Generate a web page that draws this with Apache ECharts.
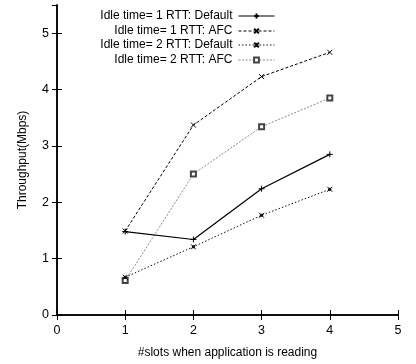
<!DOCTYPE html>
<html>
<head>
<meta charset="utf-8">
<script src="https://cdn.jsdelivr.net/npm/echarts@6/dist/echarts.min.js"></script>
<style>
  html, body { margin: 0; padding: 0; background: #fff; }
  #chart { width: 416px; height: 364px; }
</style>
</head>
<body>
<div id="chart"></div>
<script>
const slots = [1, 2, 3, 4];
const idle1Default = [1.48, 1.34, 2.24, 2.85];
const idle1Afc     = [1.49, 3.37, 4.23, 4.66];
const idle2Default = [0.67, 1.21, 1.77, 2.23];
const idle2Afc     = [0.61, 2.50, 3.34, 3.85];
const xTicks = [0, 1, 2, 3, 4, 5];
const yTicks = [0, 1, 2, 3, 4, 5];

const names = [
  "Idle time= 1 RTT: Default",
  "Idle time= 1 RTT: AFC",
  "Idle time= 2 RTT: Default",
  "Idle time= 2 RTT: AFC"
];

const font = "Liberation Sans, Arial, sans-serif";
const plusPath  = "path://M0,5L10,5M5,0L5,10";
const crossPath = "path://M0,0L10,10M10,0L0,10";
const starPath  = "path://M0,0L10,10M10,0L0,10M3,3L7,3L7,7L3,7Z";

const pair = (ys) => slots.map((x, i) => [x, ys[i]]);

function series(name, ys, opts) {
  return {
    name,
    type: "line",
    data: pair(ys),
    symbol: opts.symbol,
    symbolSize: opts.size || 6,
    color: opts.color,
    lineStyle: { color: opts.color, width: opts.width || 1, type: opts.dash },
    itemStyle: { color: opts.mark || opts.color, borderColor: opts.mark || opts.color, borderWidth: opts.bw || 1 },
    emphasis: { disabled: true },
    z: opts.z || 2
  };
}

function legendAt(name, top) {
  return {
    data: [name],
    right: 141,
    top,
    padding: 0,
    align: "right",
    itemWidth: 36,
    itemHeight: 6,
    itemGap: 0,
    selectedMode: false,
    lineStyle: { width: 1 },
    textStyle: { fontFamily: font, fontSize: 12, color: "#000", padding: [0, 1, 0, 0] }
  };
}

const xBase = {
  type: "value", min: 0, max: 5, interval: 1,
  axisLine: { show: true, lineStyle: { color: "#000", width: 1.5 } },
  axisTick: { show: true, inside: true, length: 5, lineStyle: { color: "#000" } },
  splitLine: { show: false }
};
const yBase = {
  type: "value", min: 0, max: 5.5, interval: 1,
  axisLine: { show: true, lineStyle: { color: "#000", width: 1.5 } },
  axisTick: { show: true, inside: true, length: 5, lineStyle: { color: "#000" } },
  splitLine: { show: false }
};

const chart = echarts.init(document.getElementById("chart"), null, { renderer: "canvas" });
chart.setOption({
  animation: false,
  backgroundColor: "#fff",
  grid: { left: 57, right: 18, top: 5, bottom: 48, containLabel: false },
  legend: names.map((n, i) => legendAt(n, [10, 25, 39, 54][i])),
  xAxis: [
    Object.assign({}, xBase, {
      position: "bottom",
      name: "#slots when application is reading",
      nameLocation: "middle",
      nameGap: 32,
      nameTextStyle: { fontFamily: font, fontSize: 12, color: "#000" },
      axisLabel: {
        fontFamily: font, fontSize: 12.5, color: "#000", margin: 9,
        formatter: (v) => (xTicks.includes(v) ? String(v) : "")
      }
    }),
    Object.assign({}, xBase, { position: "top", axisLabel: { show: false } })
  ],
  yAxis: [
    Object.assign({}, yBase, {
      position: "left",
      name: "Throughput(Mbps)",
      nameLocation: "middle",
      nameGap: 28,
      nameTextStyle: { fontFamily: font, fontSize: 12, color: "#000" },
      axisLabel: {
        fontFamily: font, fontSize: 12.5, color: "#000", margin: 8,
        showMaxLabel: false,
        formatter: (v) => (yTicks.includes(v) ? String(v) : "")
      }
    }),
    Object.assign({}, yBase, { position: "right", axisLabel: { show: false } })
  ],
  series: [
    series(names[0], idle1Default, { symbol: plusPath, color: "#000", dash: "solid", width: 1.2, z: 4 }),
    series(names[1], idle1Afc, { symbol: crossPath, color: "#000", dash: [3, 2], size: 5, z: 3 }),
    series(names[2], idle2Default, { symbol: starPath, color: "#111", dash: [1.5, 2], size: 5 }),
    series(names[3], idle2Afc, { symbol: "emptyRect", color: "#8a8a8a", mark: "#444", bw: 0.8, dash: [2, 1.5], size: 5, z: 1 })
  ]
});
</script>
</body>
</html>
